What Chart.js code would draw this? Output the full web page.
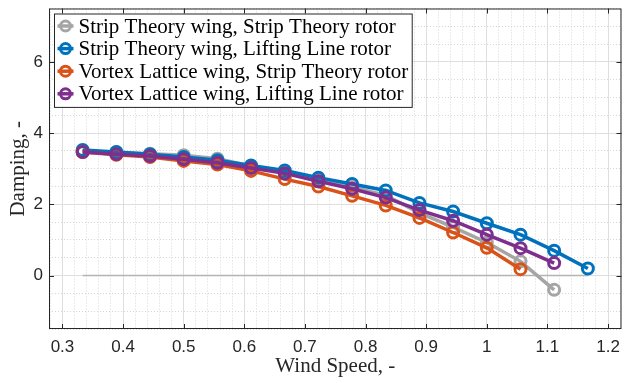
<!DOCTYPE html>
<html><head><meta charset="utf-8">
<script src="https://cdn.jsdelivr.net/npm/chart.js@4.4.0/dist/chart.umd.min.js"></script>
<style>html,body{margin:0;padding:0;background:#fff}#wrap{width:630px;height:383px;position:relative}</style>
</head><body><div id="wrap"><canvas id="c"></canvas></div>
<script>
// ---- data ----
const windSpeed = [0.3333,0.3889,0.4444,0.5,0.5556,0.6111,0.6667,0.7222,0.7778,0.8333,0.8889,0.9444,1.0,1.0556,1.1111,1.1667];
const stWingStRotor = [3.50,3.46,3.42,3.38,3.28,3.08,2.91,2.70,2.49,2.25,1.76,1.36,0.93,0.40,-0.40];
const stWingLlRotor = [3.53,3.47,3.41,3.33,3.24,3.09,2.95,2.75,2.57,2.39,2.04,1.80,1.47,1.15,0.70,0.20];
const vlWingStRotor = [3.47,3.39,3.33,3.22,3.12,2.94,2.71,2.50,2.24,1.97,1.62,1.21,0.78,0.18];
const vlWingLlRotor = [3.47,3.41,3.36,3.27,3.17,3.02,2.87,2.65,2.44,2.19,1.84,1.54,1.15,0.77,0.35];
const seriesNames = [
  'Strip Theory wing, Strip Theory rotor',
  'Strip Theory wing, Lifting Line rotor',
  'Vortex Lattice wing, Strip Theory rotor',
  'Vortex Lattice wing, Lifting Line rotor'
];
const seriesColors = ['#a5a5a5','#0072bd','#d95319','#7e2f8e'];
const zeroLineValue = 0;
const xTickValues = [0.3,0.4,0.5,0.6,0.7,0.8,0.9,1.0,1.1,1.2];
const xTickLabels = ['0.3','0.4','0.5','0.6','0.7','0.8','0.9','1','1.1','1.2'];
const yTickValues = [0,2,4,6];
const yTickLabels = ['0','2','4','6'];
const xRange = [0.2778, 1.2222];
const yRange = [-1.5, 7.5];
const xMinorStep = 0.02, yMinorStep = 0.5;
const xTitle = 'Wind Speed, -';
const yTitle = 'Damping, -';

// ---- helpers ----
const toXY = (xs, ys) => ys.map((v, i) => ({x: xs[i], y: v}));
const idxOf = (arr, v) => arr.findIndex(t => Math.abs(t - v) < 1e-6);
function gridTicks(min, max, step) {
  const out = [];
  for (let k = Math.ceil(min / step - 1e-9); k * step <= max + 1e-9; k++) out.push(+(k * step).toFixed(6));
  return out;
}
const sansFont = {family: "'Liberation Sans', Arial, sans-serif", size: 17};
const serifFont = {family: "'Liberation Serif', 'Times New Roman', serif", size: 21};

const datasets = [
  [stWingStRotor, 3], [stWingLlRotor, 2], [vlWingStRotor, 1], [vlWingLlRotor, 0]
].map(([ys, ord], i) => ({
  label: seriesNames[i],
  data: toXY(windSpeed, ys),
  borderColor: seriesColors[i],
  backgroundColor: seriesColors[i],
  borderWidth: 3.5,
  pointRadius: 5.5,
  pointHoverRadius: 5.5,
  pointBorderWidth: 3,
  pointBackgroundColor: 'rgba(0,0,0,0)',
  pointBorderColor: seriesColors[i],
  order: ord,
  tension: 0
}));
datasets.push({
  label: 'zero',
  data: [{x: windSpeed[0], y: zeroLineValue}, {x: windSpeed[windSpeed.length - 1], y: zeroLineValue}],
  borderColor: '#b4b4b4', borderWidth: 1.5, pointRadius: 0, order: 10
});

const boxPlugin = {
  id: 'boxAndLegend',
  afterDraw(chart) {
    const {ctx, chartArea: a, scales: {x, y}} = chart;
    ctx.save();
    ctx.strokeStyle = '#262626';
    ctx.lineWidth = 1;
    ctx.strokeRect(a.left + 0.5, a.top + 0.5, a.right - a.left - 1, a.bottom - a.top - 1);
    ctx.beginPath();
    const tl = 5;
    xTickValues.forEach(v => {
      const px = Math.round(x.getPixelForValue(v)) + 0.5;
      ctx.moveTo(px, a.bottom); ctx.lineTo(px, a.bottom - tl);
      ctx.moveTo(px, a.top); ctx.lineTo(px, a.top + tl);
    });
    yTickValues.forEach(v => {
      const py = Math.round(y.getPixelForValue(v)) + 0.5;
      ctx.moveTo(a.left, py); ctx.lineTo(a.left + tl, py);
      ctx.moveTo(a.right, py); ctx.lineTo(a.right - tl, py);
    });
    ctx.stroke();

    // legend
    ctx.font = serifFont.size + 'px ' + serifFont.family;
    const widths = seriesNames.map(s => ctx.measureText(s).width);
    const bx = a.left + 5.5, by = a.top + 5.5;
    const rowH = 22.6, textX = bx + 24;
    const bw = Math.max(...widths) + 28, bh = rowH * seriesNames.length + 3;
    ctx.fillStyle = '#ffffff';
    ctx.fillRect(bx, by, bw, bh);
    ctx.strokeStyle = '#262626';
    ctx.strokeRect(bx, by, bw, bh);
    seriesNames.forEach((name, i) => {
      const cy = by + 12 + i * rowH;
      const cx = bx + 11;
      ctx.strokeStyle = seriesColors[i];
      ctx.lineWidth = 3.5;
      ctx.beginPath(); ctx.moveTo(cx - 8, cy); ctx.lineTo(cx + 8, cy); ctx.stroke();
      ctx.lineWidth = 3;
      ctx.beginPath(); ctx.arc(cx, cy, 5, 0, Math.PI * 2); ctx.stroke();
      ctx.fillStyle = '#000000';
      ctx.textBaseline = 'middle';
      ctx.textAlign = 'left';
      ctx.fillText(name, textX, cy + 1);
    });
    ctx.restore();
  }
};

const xGrid = gridTicks(xRange[0], xRange[1], xMinorStep);
const yGrid = gridTicks(yRange[0], yRange[1], yMinorStep);

new Chart(document.getElementById('c'), {
  type: 'line',
  data: {datasets},
  plugins: [boxPlugin],
  options: {
    responsive: true,
    maintainAspectRatio: false,
    animation: false,
    layout: {padding: {top: 6, right: 1, left: 0, bottom: 0}},
    plugins: {legend: {display: false}, tooltip: {enabled: false}},
    scales: {
      x: {
        type: 'linear', min: xRange[0], max: xRange[1],
        afterBuildTicks: s => { s.ticks = xGrid.map(v => ({value: v})); },
        afterFit: s => { s.height = 54; s.paddingLeft = 0; s.paddingRight = 0; },
        ticks: {
          autoSkip: false, maxRotation: 0, padding: 8, color: '#262626', font: sansFont,
          callback: v => { const i = idxOf(xTickValues, v); return i >= 0 ? xTickLabels[i] : ''; }
        },
        grid: {
          drawTicks: false,
          color: c => (c.tick && idxOf(xTickValues, c.tick.value) >= 0) ? '#dedede' : '#d6d6d6',
          lineWidth: 1
        },
        border: {display: false, dash: c => (c.tick && idxOf(xTickValues, c.tick.value) < 0) ? [1, 2] : []},
        title: {display: true, text: xTitle, color: '#262626', font: serifFont, padding: {top: 0, bottom: 4}}
      },
      y: {
        type: 'linear', min: yRange[0], max: yRange[1],
        afterBuildTicks: s => { s.ticks = yGrid.map(v => ({value: v})); },
        afterFit: s => { s.width = 49; s.paddingTop = 0; s.paddingBottom = 0; },
        ticks: {
          autoSkip: false, padding: 6, color: '#262626', font: sansFont,
          callback: v => { const i = idxOf(yTickValues, v); return i >= 0 ? yTickLabels[i] : ''; }
        },
        grid: {
          drawTicks: false,
          color: c => (c.tick && idxOf(yTickValues, c.tick.value) >= 0) ? '#dedede' : '#d6d6d6',
          lineWidth: 1
        },
        border: {display: false, dash: c => (c.tick && idxOf(yTickValues, c.tick.value) < 0) ? [1, 2] : []},
        title: {display: true, text: yTitle, color: '#262626', font: serifFont, padding: {top: 6, bottom: 0}}
      }
    }
  }
});
</script>
</body></html>
